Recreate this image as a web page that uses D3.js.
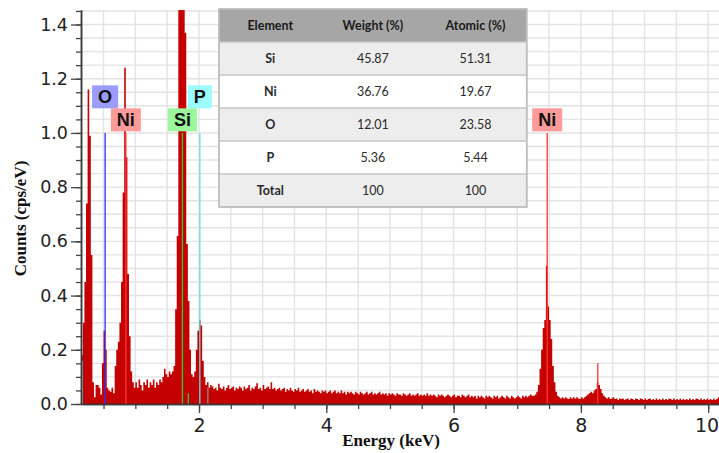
<!DOCTYPE html>
<html>
<head>
<meta charset="utf-8">
<script src="https://cdn.jsdelivr.net/npm/d3@7"></script>
<style>
html,body{margin:0;padding:0;background:#fff;}
svg{display:block;}
</style>
</head>
<body>
<svg id="chart" width="719" height="453"></svg>
<script>
// ---------- DATA ----------
const binStart = 0.15;      // keV, first channel
const binWidth = 0.025;     // keV per channel
const counts = [
0.18,0.30,0.45,0.74,1.16,0.99,0.55,0.08,0.025,0.07, 0.07,0.06,0.035,0.15,0.27,0.20,0.06,0.05,0.045,0.06,
0.04,0.14,0.20,0.23,0.30,0.45,0.78,1.24,0.91,0.48, 0.25,0.12,0.08,0.06,0.08,0.06,0.09,0.07,0.05,0.08,
0.07,0.09,0.06,0.08,0.07,0.09,0.06,0.08,0.07,0.09, 0.08,0.10,0.13,0.11,0.10,0.12,0.11,0.12,0.14,0.35,
0.62,1.60,2.20,2.50,1.90,1.37,0.59,0.38,0.20,0.11, 0.10,0.12,0.20,0.27,0.31,0.29,0.16,0.10,0.07,0.08,
0.06,0.07,0.065,0.055,0.06,0.05,0.075,0.06,0.055,0.065, 0.05,0.06,0.07,0.055,0.06,0.065,0.05,0.06,0.055,0.065,
0.06,0.05,0.065,0.055,0.06,0.07,0.05,0.06,0.055,0.065, 0.077,0.055,0.06,0.05,0.07,0.055,0.06,0.065,0.055,0.08,
0.055,0.06,0.05,0.055,0.06,0.05,0.055,0.06,0.045,0.055, 0.05,0.06,0.05,0.045,0.055,0.05,0.06,0.045,0.05,0.055,
0.045,0.05,0.055,0.045,0.05,0.04,0.055,0.045,0.05,0.045, 0.04,0.05,0.045,0.05,0.04,0.045,0.05,0.04,0.045,0.05,
0.04,0.045,0.04,0.05,0.04,0.045,0.035,0.045,0.04,0.045, 0.04,0.035,0.045,0.04,0.035,0.045,0.04,0.035,0.04,0.045,
0.035,0.04,0.045,0.035,0.04,0.035,0.04,0.045,0.035,0.04, 0.035,0.04,0.03,0.04,0.035,0.04,0.035,0.03,0.04,0.035,
0.035,0.03,0.04,0.035,0.03,0.035,0.04,0.03,0.035,0.03, 0.035,0.04,0.03,0.035,0.03,0.035,0.03,0.04,0.03,0.035,
0.03,0.035,0.03,0.025,0.035,0.03,0.035,0.03,0.025,0.03, 0.035,0.03,0.025,0.03,0.035,0.025,0.03,0.03,0.025,0.035,
0.03,0.025,0.03,0.035,0.025,0.03,0.025,0.03,0.02,0.03, 0.025,0.03,0.025,0.02,0.03,0.025,0.03,0.025,0.02,0.03,
0.025,0.03,0.02,0.025,0.03,0.025,0.02,0.03,0.025,0.02, 0.03,0.025,0.02,0.025,0.03,0.025,0.02,0.03,0.025,0.03,
0.025,0.03,0.035,0.03,0.03,0.035,0.045,0.07,0.13,0.20, 0.28,0.31,0.51,0.36,0.31,0.24,0.14,0.08,0.045,0.03,
0.025,0.02,0.025,0.02,0.025,0.02,0.018,0.025,0.02,0.025, 0.02,0.025,0.02,0.018,0.025,0.02,0.025,0.03,0.035,0.04,
0.045,0.04,0.05,0.055,0.08,0.07,0.055,0.04,0.03,0.025, 0.02,0.025,0.018,0.02,0.025,0.018,0.02,0.015,0.02,0.018,
0.02,0.015,0.018,0.02,0.015,0.02,0.018,0.015,0.02,0.018, 0.015,0.02,0.018,0.015,0.02,0.015,0.018,0.02,0.015,0.018,
0.015,0.02,0.015,0.018,0.015,0.02,0.015,0.018,0.015,0.02, 0.018,0.015,0.02,0.015,0.018,0.015,0.02,0.015,0.018,0.015,
0.018,0.015,0.02,0.015,0.018,0.015,0.02,0.018,0.015,0.02, 0.015,0.018,0.015,0.02,0.015,0.018,0.015,0.02,0.015,0.018,
0.024
];

// element markers (labelled)
const markerElements = ["O", "Ni", "Si", "P", "Ni"];
const markerEnergies = [0.525, 0.851, 1.740, 2.013, 7.471];
const markerRows     = [1, 2, 2, 1, 2];
// small unlabelled marker lines
const minorEnergies = [0.167, 1.832, 2.139, 8.265];
const minorHeights  = [0.16, 0.04, 0.06, 0.15];
const minorElements = ["P", "Si", "X", "Ni"];

// axis ticks
const xTickLabels = [2, 4, 6, 8, 10];
const yTickLabels = [0, 0.2, 0.4, 0.6, 0.8, 1.0, 1.2, 1.4];

// quantification table
const tableHeader   = ["Element", "Weight (%)", "Atomic (%)"];
const tableElements = ["Si", "Ni", "O", "P", "Total"];
const tableWeight   = ["45.87", "36.76", "12.01", "5.36", "100"];
const tableAtomic   = ["51.31", "19.67", "23.58", "5.44", "100"];

// ---------- STYLE ----------
const lineColor = {O:"#2f2fff", Ni:"#ff3535", Si:"#35c835", P:"#66dfe4", X:"#8a8a8a"};
const boxColor  = {O:"#9b9bfb", Ni:"#fd9b9b", Si:"#9bf79b", P:"#9bfdfd"};

const svg = d3.select("#chart");
const L = 81, R = 719, T = 10, B = 404;
const x = d3.scaleLinear().domain([0.146, 10.17]).range([L, R]);
const y = d3.scaleLinear().domain([0, 1.4535]).range([B, T]);

svg.append("defs").append("clipPath").attr("id","plotclip")
  .append("rect").attr("x", L).attr("y", T).attr("width", R - L).attr("height", B - T);

// grid
const gx = d3.range(0.5, 10.01, 0.5);
const gy = d3.range(1, 30).map(k => k * 0.05);
const grid = svg.append("g");
grid.selectAll("line.gx").data(gx).join("line")
  .attr("x1", d => x(d)).attr("x2", d => x(d)).attr("y1", T).attr("y2", B)
  .attr("stroke", "#e3e3e3").attr("stroke-width", 1.4);
grid.selectAll("line.gy").data(gy).join("line")
  .attr("x1", L).attr("x2", R).attr("y1", d => y(d)).attr("y2", d => y(d))
  .attr("stroke", "#e3e3e3").attr("stroke-width", 1.4);

// spectrum
const pts = counts.map((c, i) => ({e: binStart + i * binWidth, c}));
pts.push({e: binStart + counts.length * binWidth, c: counts[counts.length - 1]});
const plot = svg.append("g").attr("clip-path", "url(#plotclip)");
plot.append("path").datum(pts)
  .attr("d", d3.area().curve(d3.curveStepAfter)
     .x(d => x(d.e)).y0(y(0)).y1(d => y(d.c)))
  .attr("fill", "#c40000");

// minor markers
plot.selectAll("line.minor").data(minorEnergies).join("line")
  .attr("x1", d => x(d)).attr("x2", d => x(d))
  .attr("y1", (d, i) => y(minorHeights[i])).attr("y2", B)
  .attr("stroke", (d, i) => lineColor[minorElements[i]]).attr("stroke-width", 1.3);

// main markers
plot.selectAll("line.mk").data(markerEnergies).join("line")
  .attr("x1", d => x(d)).attr("x2", d => x(d))
  .attr("y1", y(1.0)).attr("y2", B)
  .attr("stroke", (d, i) => lineColor[markerElements[i]]).attr("stroke-width", 1.3);

// labels
const lab = svg.append("g");
markerEnergies.forEach((e, i) => {
  const el = markerElements[i];
  const cx = x(e);
  const bottom = y(1.0) - (markerRows[i] === 2 ? 1.6 : 24.6);
  const t = lab.append("text").attr("x", cx).attr("y", bottom - 5.5)
    .attr("text-anchor", "middle")
    .attr("font-family", "Liberation Sans, Arial, sans-serif")
    .attr("font-weight", "bold").attr("font-size", 18).attr("fill", "#111")
    .text(el);
  const w = t.node().getComputedTextLength() + 12;
  lab.insert("rect", "text").attr("x", cx - w / 2).attr("y", bottom - 23)
    .attr("width", w).attr("height", 23).attr("fill", boxColor[el]);
});

// axes
const fontAxis = "DejaVu Sans, Verdana, sans-serif";
const yMinor = svg.append("g").attr("transform", `translate(${L},0)`)
  .call(d3.axisLeft(y).tickValues(d3.range(0, 30).map(k => k * 0.05)).tickSize(5).tickSizeOuter(0).tickFormat(""));
const yAx = svg.append("g").attr("transform", `translate(${L},0)`)
  .call(d3.axisLeft(y).tickValues(yTickLabels).tickSize(10).tickSizeOuter(0).tickPadding(3).tickFormat(d3.format(".1f")));
const xMinor = svg.append("g").attr("transform", `translate(0,${B})`)
  .call(d3.axisBottom(x).tickValues(gx).tickSize(5).tickSizeOuter(0).tickFormat(""));
const xAx = svg.append("g").attr("transform", `translate(0,${B})`)
  .call(d3.axisBottom(x).tickValues(xTickLabels).tickSize(9).tickSizeOuter(0).tickPadding(6));
[yMinor, yAx, xMinor, xAx].forEach(g => {
  g.selectAll("path.domain").attr("stroke", "#3a3a3a").attr("stroke-width", 1.5);
  g.selectAll(".tick line").attr("stroke", "#444").attr("stroke-width", 1.3);
});
yAx.selectAll("text").attr("font-family", fontAxis).attr("font-size", 17.5).attr("fill", "#222");
xAx.selectAll("text").attr("font-family", fontAxis).attr("font-size", 19).attr("fill", "#222");
// keep the last label inside the window, as in the reference
xAx.selectAll(".tick text").filter(d => d === 10).attr("text-anchor", "end").attr("x", 10.5);

// axis titles
svg.append("text").attr("x", 391).attr("y", 446).attr("text-anchor", "middle")
  .attr("font-family", "Liberation Serif, Times New Roman, serif").attr("font-weight", "bold")
  .attr("font-size", 17).attr("fill", "#111").text("Energy (keV)");
svg.append("text").attr("transform", "translate(25.5,218.5) rotate(-90)").attr("text-anchor", "middle")
  .attr("font-family", "Liberation Serif, Times New Roman, serif").attr("font-weight", "bold")
  .attr("font-size", 17).attr("fill", "#111").text("Counts (cps/eV)");

// table
const tX = 219, tY = 9, colW = 102.6, rowH = 33;
const tbl = svg.append("g");
const rows = [tableHeader].concat(tableElements.map((e, i) => [e, tableWeight[i], tableAtomic[i]]));
rows.forEach((r, ri) => {
  const fill = ri === 0 ? "#a6a6a6" : (ri % 2 === 1 ? "#ededed" : "#ffffff");
  tbl.append("rect").attr("x", tX).attr("y", tY + ri * rowH).attr("width", colW * 3).attr("height", rowH)
    .attr("fill", fill);
  r.forEach((v, ci) => {
    tbl.append("text").attr("x", tX + colW * ci + colW / 2).attr("y", tY + ri * rowH + rowH / 2 + 4.5)
      .attr("text-anchor", "middle").attr("font-family", "Lato, Open Sans, sans-serif")
      .attr("font-size", 12.5).attr("fill", ri === 0 ? "#1a1a1a" : "#2a2a2a")
      .attr("font-weight", (ri === 0 || ci === 0) ? "bold" : "normal").text(v);
  });
  if (ri > 0) {
    tbl.append("line").attr("x1", tX).attr("x2", tX + colW * 3)
      .attr("y1", tY + ri * rowH).attr("y2", tY + ri * rowH)
      .attr("stroke", "#c6c6c6").attr("stroke-width", 1.5);
  }
});
tbl.append("rect").attr("x", tX).attr("y", tY).attr("width", colW * 3).attr("height", rowH * rows.length)
  .attr("fill", "none").attr("stroke", "#bdbdbd").attr("stroke-width", 1.8);
</script>
</body>
</html>
